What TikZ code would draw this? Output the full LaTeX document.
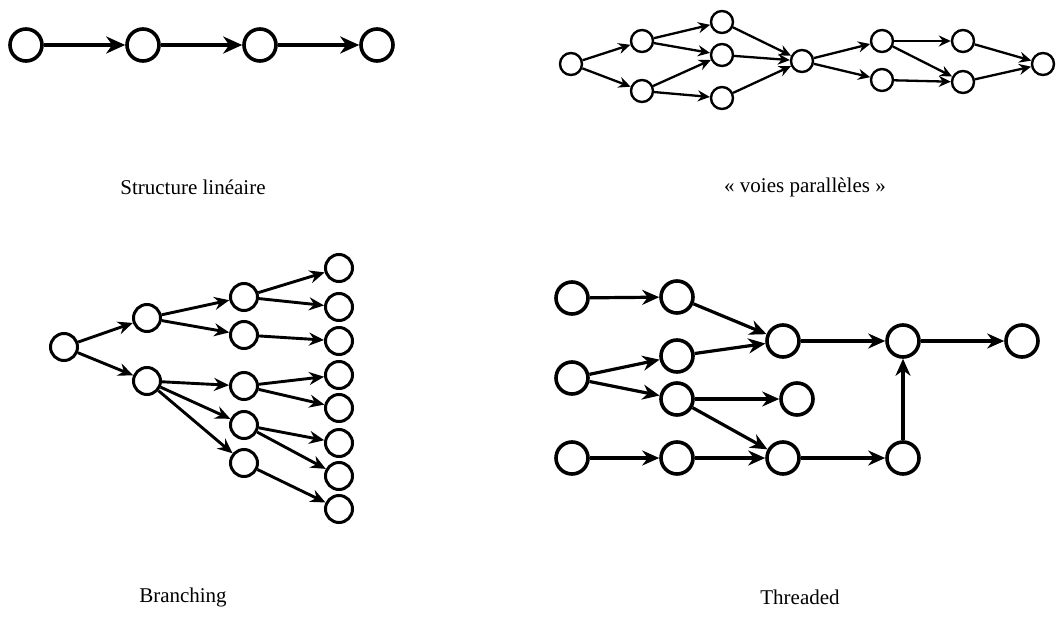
\documentclass[tikz,border=0pt]{standalone}
\usepackage{fontspec}
\setmainfont{Liberation Serif}
\usetikzlibrary{
  arrows.meta,
  chains,
  scopes
}

\begin{document}
\begin{tikzpicture}[x=1pt,y=-1pt,
      state/.style={
         circle,
         draw=black,
         fill=white,
         inner sep=0pt
      },
      big state/.style={state,minimum size=32pt,line width=3.6pt},
      small state/.style={state,minimum size=22pt,line width=2.4pt},
      tree state/.style={state,minimum size=27pt,line width=3pt},
      thread state/.style={state,minimum size=32pt,line width=3.6pt},
      caption/.style={font=\fontsize{21}{25}\selectfont},
      every join/.style={rounded corners}
    ]
    \useasboundingbox (0,0) rectangle (1060,629);

    % structure lineaire
    \node (l1) [big state] at (26,45) {};
    \node (l2) [big state] at (143,45) {};
    \node (l3) [big state] at (260,45) {};
    \node (l4) [big state] at (377,45) {};
  { [start chain,tip/.style={-{Stealth[length=19pt,width=17pt,inset=6pt]},line width=3.4pt}]
       \chainin (l1);
       \chainin (l2)    [join=by tip];
       \chainin (l3)    [join=by tip];
       \chainin (l4)    [join=by tip];
  }
    \node (lin) [caption] at (193,187) {Structure linéaire};

    % voies paralleles
    \node (pa)  [small state] at (571,64) {};
    \node (pb1) [small state] at (642,41) {};
    \node (pb2) [small state] at (642,91) {};
    \node (pc1) [small state] at (722,22) {};
    \node (pc2) [small state] at (722,55) {};
    \node (pc3) [small state] at (722,98) {};
    \node (pd)  [small state] at (802,61) {};
    \node (pe1) [small state] at (882,41) {};
    \node (pe2) [small state] at (882,80) {};
    \node (pf1) [small state] at (963,41) {};
    \node (pf2) [small state] at (963,82) {};
    \node (pg)  [small state] at (1043,64) {};
  {[tip/.style={-{Stealth[length=12pt,width=11pt,inset=4pt]},line width=2.3pt}]
  { [start chain]
       \chainin (pa);
       \chainin (pb1)   [join=by tip];
       \chainin (pc1)   [join=by tip];
       \chainin (pd)    [join=by tip];
       \chainin (pe1)   [join=by tip];
       \chainin (pf1)   [join=by tip];
       \chainin (pg)    [join=by tip];
  }
  { [start chain]
       \chainin (pa);
       \chainin (pb2)   [join=by tip];
       \chainin (pc3)   [join=by tip];
       \chainin (pd)    [join=by tip];
       \chainin (pe2)   [join=by tip];
       \chainin (pf2)   [join=by tip];
       \chainin (pg)    [join=by tip];
  }
  { [start chain]
       \chainin (pb1);
       \chainin (pc2)   [join=by tip];
       \chainin (pd)    [join=by tip];
  }
  { [start chain]
       \chainin (pb2);
       \chainin (pc2)   [join=by tip];
  }
  { [start chain]
       \chainin (pe1);
       \chainin (pf2)   [join=by tip];
  }
  }
    \node (par) [caption] at (805,187) {« voies parallèles »};

    % branching
    \node (br)  [tree state] at (64,347) {};
    \node (b1a) [tree state] at (147,318) {};
    \node (b1b) [tree state] at (147,381) {};
    \node (b2a) [tree state] at (244,297) {};
    \node (b2b) [tree state] at (244,335) {};
    \node (b2c) [tree state] at (244,386) {};
    \node (b2d) [tree state] at (244,425) {};
    \node (b2e) [tree state] at (244,463) {};
    \node (b3a) [tree state] at (339,268) {};
    \node (b3b) [tree state] at (339,307) {};
    \node (b3c) [tree state] at (339,341) {};
    \node (b3d) [tree state] at (339,375) {};
    \node (b3e) [tree state] at (339,408) {};
    \node (b3f) [tree state] at (339,443) {};
    \node (b3g) [tree state] at (339,476) {};
    \node (b3h) [tree state] at (339,509) {};
  {[tip/.style={-{Stealth[length=15pt,width=13pt,inset=5pt]},line width=2.9pt}]
  { [start chain]
       \chainin (br);
       \chainin (b1a)   [join=by tip];
       \chainin (b2a)   [join=by tip];
       \chainin (b3a)   [join=by tip];
  }
  { [start chain]
       \chainin (b2a);
       \chainin (b3b)   [join=by tip];
  }
  { [start chain]
       \chainin (b1a);
       \chainin (b2b)   [join=by tip];
       \chainin (b3c)   [join=by tip];
  }
  { [start chain]
       \chainin (br);
       \chainin (b1b)   [join=by tip];
       \chainin (b2c)   [join=by tip];
       \chainin (b3d)   [join=by tip];
  }
  { [start chain]
       \chainin (b2c);
       \chainin (b3e)   [join=by tip];
  }
  { [start chain]
       \chainin (b1b);
       \chainin (b2d)   [join=by tip];
       \chainin (b3f)   [join=by tip];
  }
  { [start chain]
       \chainin (b2d);
       \chainin (b3g)   [join=by tip];
  }
  { [start chain]
       \chainin (b1b);
       \chainin (b2e)   [join=by tip];
       \chainin (b3h)   [join=by tip];
  }
  }
    \node (bra) [caption] at (183,597) {Branching};

    % threaded
    \node (ta1) [thread state] at (572,298) {};
    \node (ta2) [thread state] at (677,297) {};
    \node (tb)  [thread state] at (572,378) {};
    \node (tc1) [thread state] at (677,356) {};
    \node (tc2) [thread state] at (677,399) {};
    \node (td1) [thread state] at (783,341) {};
    \node (td2) [thread state] at (797,399) {};
    \node (te)  [thread state] at (903,341) {};
    \node (tf)  [thread state] at (1022,341) {};
    \node (tg1) [thread state] at (572,458) {};
    \node (tg2) [thread state] at (677,458) {};
    \node (tg3) [thread state] at (783,458) {};
    \node (tg4) [thread state] at (903,458) {};
  {[tip/.style={-{Stealth[length=17pt,width=15pt,inset=5.5pt]},line width=3.2pt}]
  { [start chain]
       \chainin (ta1);
       \chainin (ta2)   [join=by tip];
       \chainin (td1)   [join=by tip];
       \chainin (te)    [join=by tip];
       \chainin (tf)    [join=by tip];
  }
  { [start chain]
       \chainin (tb);
       \chainin (tc1)   [join=by tip];
       \chainin (td1)   [join=by tip];
  }
  { [start chain]
       \chainin (tb);
       \chainin (tc2)   [join=by tip];
       \chainin (td2)   [join=by tip];
  }
  { [start chain]
       \chainin (tc2);
       \chainin (tg3)   [join=by tip];
  }
  { [start chain]
       \chainin (tg1);
       \chainin (tg2)   [join=by tip];
       \chainin (tg3)   [join=by tip];
       \chainin (tg4)   [join=by tip];
       \chainin (te)    [join=by tip];
  }
  }
    \node (thr) [caption] at (800,597) {Threaded};
\end{tikzpicture}
\end{document}
